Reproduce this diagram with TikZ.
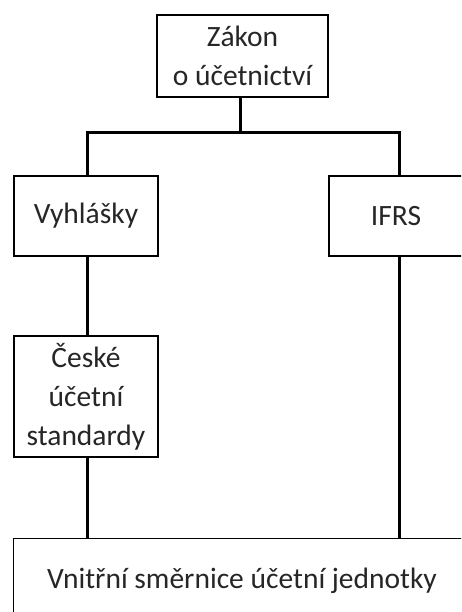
\documentclass[tikz,border=0pt]{standalone}
\usepackage{fontspec}
\setmainfont{Carlito}
\begin{document}
\begin{tikzpicture}[x=1pt,y=-1pt,
  box/.style={draw=black,line width=1.4pt,fill=white,align=center,inner sep=0pt,
    font=\fontsize{29.5}{39}\selectfont,text=black!85},
  conn/.style={line width=3pt}]
\useasboundingbox (0,0) rectangle (461,612);
\begin{scope}
\clip (0,0) rectangle (461,612);
\node[box,minimum width=171pt,minimum height=82pt] (zakon) at (242.5,56) {Zákon\\o účetnictví};
\node[box,minimum width=144pt,minimum height=80pt] (vyhl) at (86,216) {Vyhlášky};
\node[box,minimum width=134pt,minimum height=80pt] (ifrs) at (396,216) {IFRS};
\node[box,minimum width=144pt,minimum height=121pt] (ceske) at (86,396.5) {České\\účetní\\standardy};
\coordinate (bar) at (240,133);
\coordinate (vtop) at (87,538);
\coordinate (itop) at (399,538);
\draw[conn] (zakon.south -| bar) -- (bar);
\draw[conn] (vyhl.north -| vtop) |- (bar) -| (ifrs.north -| itop);
\draw[conn] (vyhl.south -| vtop) -- (ceske.north -| vtop);
\draw[conn] (ceske.south -| vtop) -- (vtop);
\draw[conn] (ifrs.south -| itop) -- (itop);
\node[box,minimum width=462pt,minimum height=90pt,anchor=north west] (vnitrni) at (13,538) {};
\node[font=\fontsize{29.5}{39}\selectfont,text=black!85,anchor=base] (vtext) at (242,588) {Vnitřní směrnice účetní jednotky};
\end{scope}
\end{tikzpicture}
\end{document}
